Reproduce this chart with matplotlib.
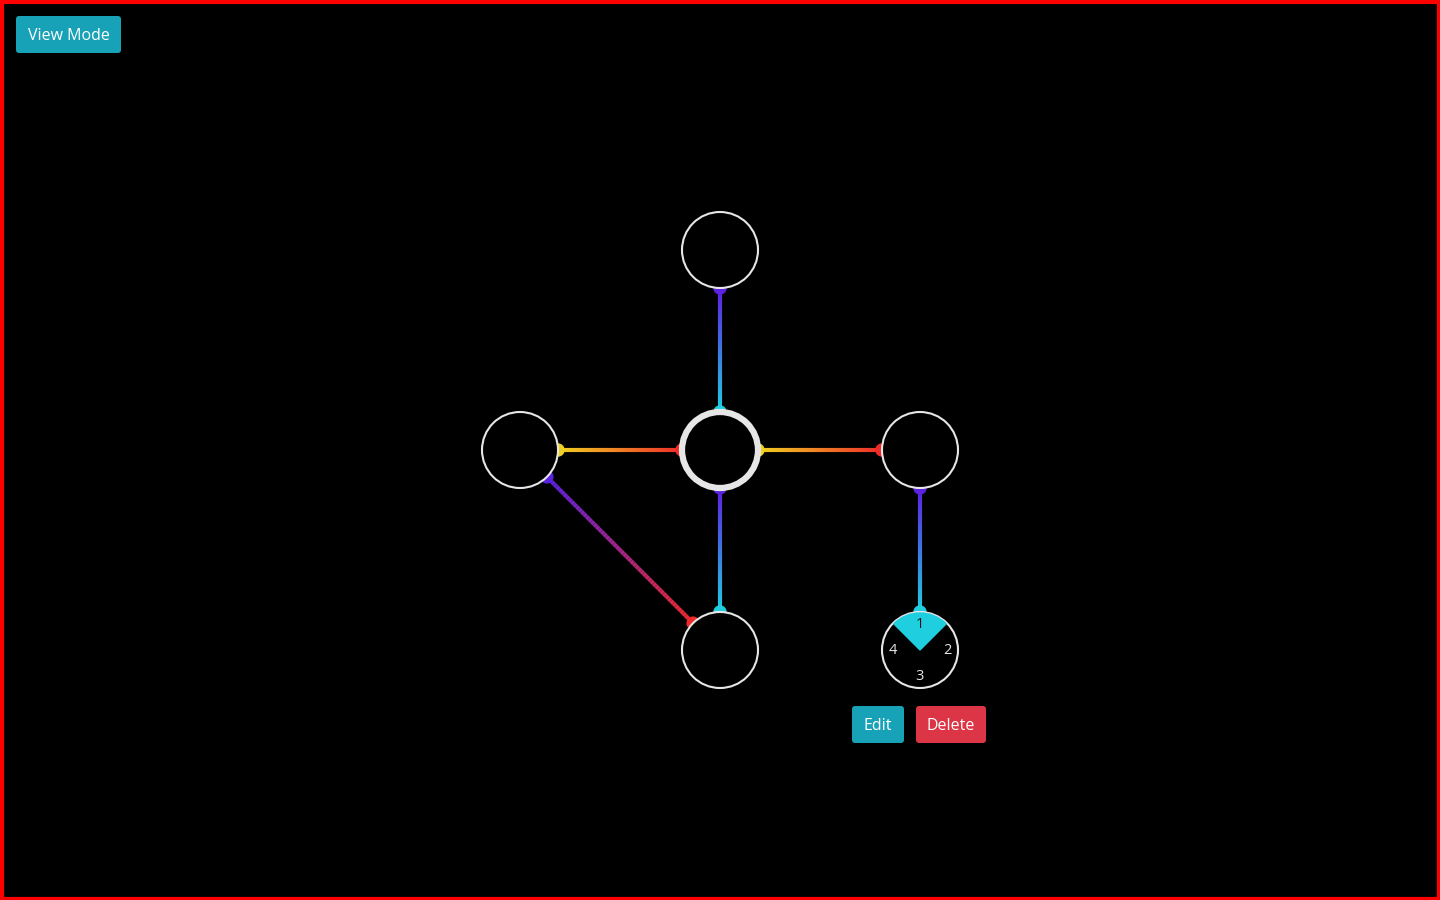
import numpy as np
import matplotlib.pyplot as plt
from matplotlib.collections import LineCollection
from matplotlib.patches import Circle, Wedge, FancyBboxPatch, Rectangle
from matplotlib.colors import to_rgb

plt.rcParams['font.family'] = ['Open Sans', 'DejaVu Sans']

node_x = [720, 520, 720, 920, 720, 920]
node_y = [250, 450, 450, 450, 650, 650]
radius = 38
selected = 5
central = 2

# (from node, to node, start colour, end colour)
edges = [(0, 2, '#5b21e0', '#1fcfe0'),
         (1, 2, '#f0d020', '#ef2a2a'),
         (2, 3, '#f0d020', '#ef2a2a'),
         (2, 4, '#5b21e0', '#1fcfe0'),
         (1, 4, '#5b21e0', '#ef2a2a'),
         (3, 5, '#5b21e0', '#1fcfe0')]

sector_labels = ['1', '2', '3', '4']

fig = plt.figure(figsize=(14.4, 9), dpi=100, facecolor='black')
ax = fig.add_axes([0, 0, 1, 1])
ax.set_xlim(0, 1440)
ax.set_ylim(900, 0)
ax.set_facecolor('black')
ax.axis('off')

for a, b, c0, c1 in edges:
    p0 = np.array([node_x[a], node_y[a]], float)
    p1 = np.array([node_x[b], node_y[b]], float)
    d = (p1 - p0) / np.linalg.norm(p1 - p0)
    s = p0 + d * radius
    e = p1 - d * radius
    t = np.linspace(0, 1, 60)
    pts = s + np.outer(t, e - s)
    segs = np.stack([pts[:-1], pts[1:]], axis=1)
    col0, col1 = np.array(to_rgb(c0)), np.array(to_rgb(c1))
    cols = [col0 + (col1 - col0) * v for v in t[:-1]]
    ax.add_collection(LineCollection(segs, colors=cols, linewidths=3, zorder=1))
    ax.add_patch(Circle(s, 6, color=c0, zorder=2))
    ax.add_patch(Circle(e, 6, color=c1, zorder=2))

for i, (x, y) in enumerate(zip(node_x, node_y)):
    lw = 4.5 if i == central else 1.5
    ax.add_patch(Circle((x, y), radius, facecolor='black', edgecolor='#e6e6e6',
                        linewidth=lw, zorder=3))

sx, sy = node_x[selected], node_y[selected]
ax.add_patch(Wedge((sx, sy), radius - 1, 225, 315, color='#1fcfe0', zorder=4))
offs = [(0, -26), (27, 0), (0, 27), (-27, 0)]
for lab, (dx, dy) in zip(sector_labels, offs):
    ax.text(sx + dx, sy + dy, lab, color='#e6e6e6' if lab != '1' else '#111111',
            fontsize=10.5, ha='center', va='center', zorder=5)


def button(x0, y0, w, h, color, label):
    ax.add_patch(FancyBboxPatch((x0 + 3, y0 + 3), w - 6, h - 6,
                                boxstyle='round,pad=3', facecolor=color,
                                edgecolor='none', zorder=5))
    ax.text(x0 + w / 2, y0 + h / 2 + 1, label, color='white', fontsize=11.5,
            ha='center', va='center', zorder=6)


button(16, 16, 105, 37, '#17a2b8', 'View Mode')
button(852, 706, 52, 37, '#17a2b8', 'Edit')
button(916, 706, 70, 37, '#dc3545', 'Delete')

ax.add_patch(Rectangle((1.5, 1.5), 1437, 897, fill=False, edgecolor='red',
                       linewidth=3, zorder=10))

fig.savefig('out.png', dpi=100, facecolor='black')
